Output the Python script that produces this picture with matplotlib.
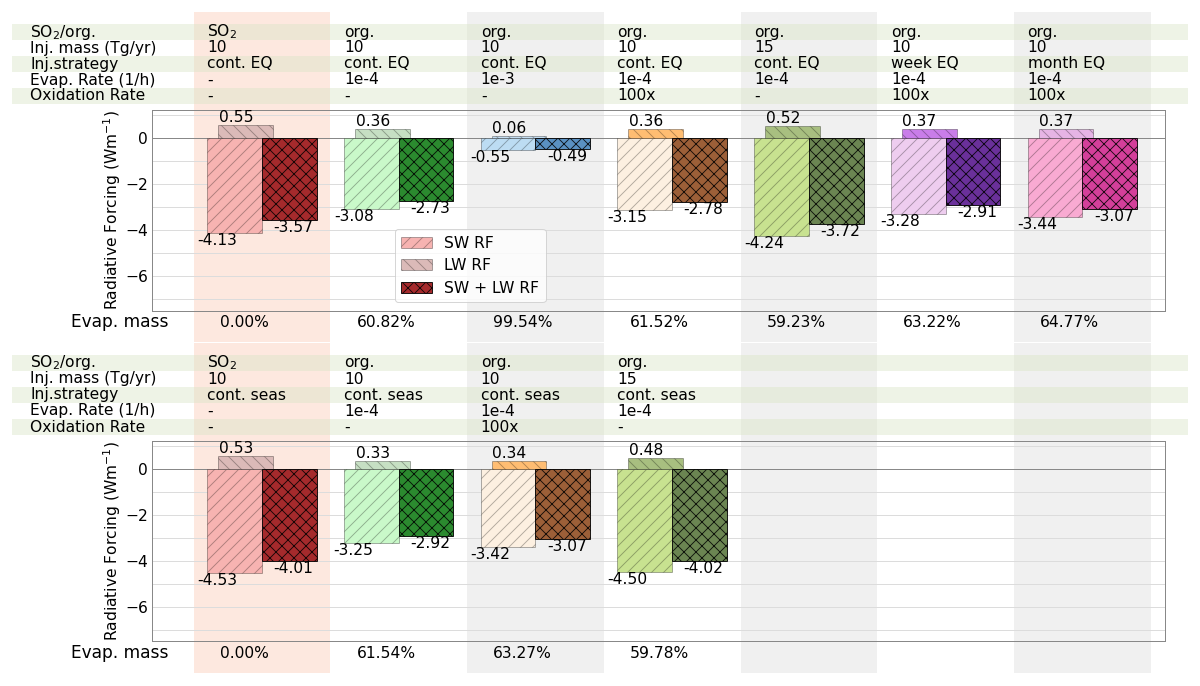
import matplotlib
matplotlib.use('Agg')
import numpy as np
import matplotlib.pyplot as plt
from matplotlib.patches import Rectangle
from matplotlib.transforms import blended_transform_factory

W, H, DPI = 1200, 686, 72
FS = 15.5

# ---- data -------------------------------------------------------------
row_names = ['SO$_2$/org.', 'Inj. mass (Tg/yr)', 'Inj.strategy',
             'Evap. Rate (1/h)', 'Oxidation Rate']

# top panel (equatorial)
top_type = ['SO$_2$', 'org.', 'org.', 'org.', 'org.', 'org.', 'org.']
top_mass = ['10', '10', '10', '10', '15', '10', '10']
top_strat = ['cont. EQ', 'cont. EQ', 'cont. EQ', 'cont. EQ', 'cont. EQ', 'week EQ', 'month EQ']
top_evap_rate = ['-', '1e-4', '1e-3', '1e-4', '1e-4', '1e-4', '1e-4']
top_oxid = ['-', '-', '-', '100x', '-', '100x', '100x']
top_sw = [-4.13, -3.08, -0.55, -3.15, -4.24, -3.28, -3.44]
top_lw = [0.55, 0.36, 0.06, 0.36, 0.52, 0.37, 0.37]
top_net = [-3.57, -2.73, -0.49, -2.78, -3.72, -2.91, -3.07]
top_evap_mass = ['0.00%', '60.82%', '99.54%', '61.52%', '59.23%', '63.22%', '64.77%']
top_colors = [0, 1, 2, 3, 4, 5, 6]

# bottom panel (seasonal)
bot_type = ['SO$_2$', 'org.', 'org.', 'org.']
bot_mass = ['10', '10', '10', '15']
bot_strat = ['cont. seas', 'cont. seas', 'cont. seas', 'cont. seas']
bot_evap_rate = ['-', '1e-4', '1e-4', '1e-4']
bot_oxid = ['-', '-', '100x', '-']
bot_sw = [-4.53, -3.25, -3.42, -4.50]
bot_lw = [0.53, 0.33, 0.34, 0.48]
bot_net = [-4.01, -2.92, -3.07, -4.02]
bot_evap_mass = ['0.00%', '61.54%', '63.27%', '59.78%']
bot_colors = [0, 1, 3, 4]

sw_cols = ['#f7b3b1', '#c9f9c9', '#bcdcf3', '#fdf0e1', '#c8e290', '#eecdef', '#f9aad2']
lw_cols = ['#dbbab8', '#c6dfc3', '#c3dcef', '#ffbd72', '#a8bf80', '#c97de9', '#e6b4e5']
net_cols = ['#a52a2c', '#2b8a2f', '#5a91c2', '#9c5f38', '#6b8552', '#6a309a', '#d43f9a']
shade_cols = ['#fde8df', None, '#f0f0f0', None, '#f0f0f0', None, '#f0f0f0']

plt.rcParams['hatch.linewidth'] = 0.9


def fx(px):
    return px / W


def fy(px):
    return 1 - px / H


fig = plt.figure(figsize=(W / DPI, H / DPI), dpi=DPI)
ax1 = fig.add_axes([fx(152), fy(311), fx(1013), 201 / H])
ax2 = fig.add_axes([fx(152), fy(641), fx(1013), 200 / H])


def panel(ax, off, rows, sw, lw, net, evap_mass, cidx, legend=False):
    ax.set_xlim(-0.805, 6.605)
    ax.set_ylim(-7.5, 1.2)
    ax.set_facecolor('none')
    tr = blended_transform_factory(ax.transData, fig.transFigure)

    # background columns
    for i, c in enumerate(shade_cols):
        if c is None:
            continue
        fig.add_artist(Rectangle((i - 0.5, fy(off + 342)), 1, 330 / H,
                                 transform=tr, color=c, lw=0, zorder=-2))
    # row stripes
    for r in [0, 2, 4]:
        y0 = off + 24 + 16 * r
        fig.add_artist(Rectangle((fx(12), fy(y0 + 16)), fx(1176), 16 / H,
                                 transform=fig.transFigure, color='#dbe5c8',
                                 alpha=0.45, lw=0, zorder=-1))

    # table text
    for r, name in enumerate(row_names):
        y = fy(off + 32 + 16 * r)
        fig.text(fx(30), y, name, fontsize=FS, va='center', ha='left')
        for i, val in enumerate(rows[r]):
            fig.text(i - 0.4, y, val, fontsize=FS, va='center', ha='left', transform=tr)
    fig.text(fx(71), fy(off + 322), 'Evap. mass', fontsize=FS + 1.5, va='center', ha='left')
    for i, val in enumerate(evap_mass):
        fig.text(i - 0.31, fy(off + 322), val, fontsize=FS, va='center', ha='left', transform=tr)

    x = np.arange(len(sw))
    b1 = ax.bar(x - 0.2, sw, 0.4, color=[sw_cols[c] for c in cidx],
                edgecolor=(0, 0, 0, 0.3), hatch='//', lw=1, zorder=3)
    b2 = ax.bar(x - 0.12, lw, 0.4, color=[lw_cols[c] for c in cidx],
                edgecolor=(0, 0, 0, 0.3), hatch='\\\\', lw=1, zorder=3)
    b3 = ax.bar(x + 0.2, net, 0.4, color=[net_cols[c] for c in cidx],
                edgecolor=(0, 0, 0, 0.85), hatch='xx', lw=1, zorder=3)

    for i in range(len(sw)):
        ax.text(i - 0.33, sw[i], '%.2f' % sw[i], ha='center', va='top', fontsize=FS, zorder=5)
        ax.text(i - 0.19, lw[i], '%.2f' % lw[i], ha='center', va='bottom', fontsize=FS, zorder=5)
        ax.text(i + 0.23, net[i], '%.2f' % net[i], ha='center', va='top', fontsize=FS, zorder=5)

    ax.set_yticks([-6, -4, -2, 0])
    ax.set_yticks(range(-7, 2), minor=True)
    ax.grid(True, which='both', axis='y', color='#dcdcdc', lw=1)
    ax.axhline(0, color='#888888', lw=1, zorder=2)
    ax.set_axisbelow(True)
    ax.set_xticks([])
    ax.tick_params(axis='y', which='both', length=0, pad=4, labelsize=FS)
    for s in ax.spines.values():
        s.set_color('#888888')
        s.set_linewidth(1)
    ax.set_ylabel('Radiative Forcing (Wm$^{-1}$)', fontsize=FS)
    ax.yaxis.set_label_coords(-0.029, 0.5)

    if legend:
        ax.legend([b1[0], b2[0], b3[0]], ['SW RF', 'LW RF', 'SW + LW RF'],
                  loc='upper left', bbox_to_anchor=(0.232, 0.445),
                  fontsize=FS, framealpha=0.8)


panel(ax1, 0, [top_type, top_mass, top_strat, top_evap_rate, top_oxid],
      top_sw, top_lw, top_net, top_evap_mass, top_colors, legend=True)
panel(ax2, 331, [bot_type, bot_mass, bot_strat, bot_evap_rate, bot_oxid],
      bot_sw, bot_lw, bot_net, bot_evap_mass, bot_colors)

fig.savefig('out.png', dpi=DPI)
